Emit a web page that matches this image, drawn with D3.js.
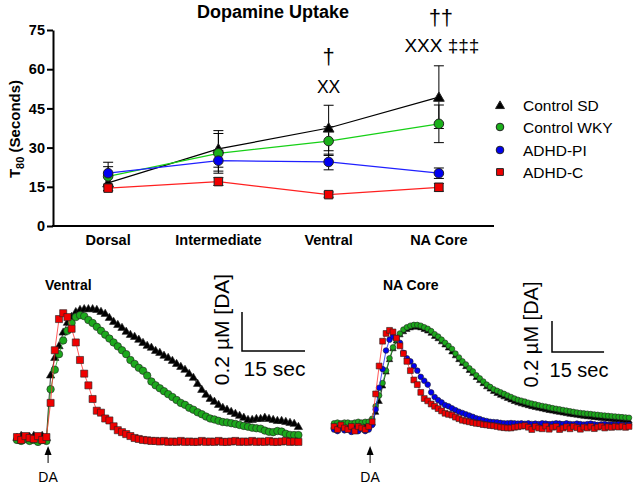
<!DOCTYPE html>
<html>
<head>
<meta charset="utf-8">
<script src="https://cdn.jsdelivr.net/npm/d3@7.9.0/dist/d3.min.js"></script>
<style>
  body { margin: 0; background: #fff; }
  svg text { font-family: Arial, "Liberation Sans", sans-serif; fill: #000; }
</style>
</head>
<body>
<svg id="chart" width="635" height="486"></svg>
<script>
// ---- top chart: T80 by region (mean and SEM, seconds) ----
const regions = ["Dorsal", "Intermediate", "Ventral", "NA Core"];
const groups = ["Control SD", "Control WKY", "ADHD-PI", "ADHD-C"];
const yTicks = [0, 15, 30, 45, 60, 75];

const sdMean = [16.5, 29.5, 37.5, 49.3];
const sdErr = [3, 7, 8.7, 12];
const wkyMean = [19, 27.8, 32.5, 39.1];
const wkyErr = [3.7, 7.6, 5.5, 7.2];
const piMean = [20.2, 25, 24.5, 20.2];
const piErr = [4.2, 4, 3, 2];
const cMean = [14.5, 17, 12, 14.8];
const cErr = [1, 1.5, 1, 1.5];

// significance marks above Ventral and NA Core
const marksVentral = ["†", "XX"];
const marksCore = ["††", "XXX ‡‡‡"];

// ---- bottom traces: [DA] in µM, one sample per second ----
const ventralSD = [0, 0.01, -0.01, 0.005, 0.01, -0.005, 0.01, 0,
  0.32, 0.41, 0.47, 0.54, 0.59, 0.62, 0.645, 0.656, 0.66, 0.66,
  0.66, 0.656, 0.646, 0.636, 0.615, 0.595, 0.579, 0.564, 0.544, 0.528,
  0.518, 0.503, 0.487, 0.472, 0.462, 0.446, 0.436, 0.421, 0.41, 0.395,
  0.379, 0.364, 0.349, 0.328, 0.308, 0.277, 0.246, 0.221, 0.2, 0.185,
  0.169, 0.154, 0.144, 0.133, 0.123, 0.113, 0.103, 0.092, 0.092, 0.097,
  0.097, 0.103, 0.097, 0.092, 0.087, 0.087, 0.082, 0.077, 0.072, 0.056];
const ventralWKY = [-0.01, -0.015, -0.005, -0.015, -0.01, -0.02, -0.01, -0.015,
  0.25, 0.35, 0.43, 0.5, 0.55, 0.59, 0.62, 0.63, 0.625, 0.605,
  0.59, 0.57, 0.55, 0.53, 0.51, 0.49, 0.47, 0.45, 0.43, 0.4,
  0.38, 0.36, 0.345, 0.32, 0.29, 0.27, 0.255, 0.24, 0.225, 0.21,
  0.195, 0.18, 0.17, 0.155, 0.145, 0.132, 0.122, 0.11, 0.1, 0.095,
  0.088, 0.082, 0.08, 0.076, 0.072, 0.067, 0.062, 0.058, 0.053, 0.05,
  0.048, 0.038, 0.032, 0.03, 0.036, 0.033, 0.022, 0.016, 0.015, 0.015];
const ventralC = [0.005, -0.01, 0.01, 0, -0.005, 0.01, -0.01, 0.005,
  0.18, 0.45, 0.61, 0.64, 0.62, 0.56, 0.49, 0.4, 0.33, 0.27,
  0.2, 0.14, 0.13, 0.1, 0.09, 0.06, 0.04, 0.03, 0.02, 0.01,
  0, -0.005, -0.01, -0.012, -0.015, -0.015, -0.018, -0.015, -0.02, -0.018,
  -0.02, -0.015, -0.02, -0.018, -0.02, -0.02, -0.015, -0.02, -0.018, -0.02,
  -0.015, -0.02, -0.02, -0.018, -0.015, -0.02, -0.018, -0.02, -0.015, -0.02,
  -0.018, -0.02, -0.015, -0.02, -0.02, -0.018, -0.015, -0.02, -0.018, -0.02];

const coreSD = [0.01, 0.005, 0.015, 0.01, 0, 0.01, 0.015, 0.005, 0.01, 0.015, 0.01,
  0.03, 0.1, 0.17, 0.27, 0.36, 0.44, 0.51, 0.56, 0.6, 0.62,
  0.635, 0.645, 0.65, 0.65, 0.645, 0.635, 0.625, 0.61, 0.59, 0.575,
  0.555, 0.535, 0.515, 0.49, 0.465, 0.44, 0.415, 0.395, 0.37, 0.35,
  0.325, 0.305, 0.285, 0.265, 0.25, 0.235, 0.222, 0.21, 0.2, 0.19,
  0.18, 0.17, 0.162, 0.155, 0.149, 0.143, 0.137, 0.132, 0.127, 0.122,
  0.117, 0.112, 0.108, 0.104, 0.1, 0.096, 0.092, 0.088, 0.085, 0.082,
  0.078, 0.075, 0.072, 0.07, 0.067, 0.064, 0.062, 0.06, 0.057, 0.055,
  0.052, 0.05, 0.048, 0.046, 0.044];
const coreWKY = [0.03, 0.035, 0.03, 0.035, 0.035, 0.03, 0.035, 0.04, 0.035, 0.04, 0.04,
  0.06, 0.14, 0.21, 0.29, 0.37, 0.45, 0.52, 0.57, 0.61, 0.635,
  0.65, 0.66, 0.665, 0.665, 0.66, 0.65, 0.64, 0.625, 0.605, 0.59,
  0.57, 0.55, 0.53, 0.51, 0.48, 0.455, 0.43, 0.41, 0.385, 0.365,
  0.34, 0.32, 0.3, 0.28, 0.265, 0.25, 0.24, 0.23, 0.22, 0.21,
  0.2, 0.19, 0.182, 0.176, 0.17, 0.163, 0.157, 0.152, 0.147, 0.142,
  0.138, 0.133, 0.128, 0.124, 0.12, 0.116, 0.112, 0.108, 0.104, 0.1,
  0.097, 0.094, 0.092, 0.09, 0.087, 0.085, 0.082, 0.08, 0.078, 0.076,
  0.074, 0.072, 0.07, 0.068, 0.066];
const corePI = [-0.01, -0.02, 0, -0.015, -0.01, -0.025, -0.01, -0.02, -0.005, -0.02, -0.01,
  0.02, 0.12, 0.26, 0.38, 0.5, 0.57, 0.59, 0.58, 0.55, 0.485,
  0.45, 0.43, 0.4, 0.37, 0.33, 0.305, 0.28, 0.23, 0.2, 0.18,
  0.165, 0.148, 0.14, 0.127, 0.115, 0.105, 0.097, 0.088, 0.08, 0.072,
  0.063, 0.058, 0.05, 0.045, 0.04, 0.038, 0.037, 0.033, 0.03, 0.03,
  0.032, 0.03, 0.028, 0.03, 0.027, 0.03, 0.026, 0.028, 0.025, 0.03,
  0.028, 0.025, 0.027, 0.03, 0.028, 0.025, 0.03, 0.026, 0.024, 0.028,
  0.025, 0.022, 0.025, 0.028, 0.024, 0.02, 0.023, 0.025, 0.02, 0.022,
  0.02, 0.024, 0.02, 0.018, 0.02];
const coreC = [0.01, -0.01, 0.02, 0, -0.01, 0.01, -0.02, 0.01, 0, -0.01, 0.01,
  0.04, 0.22, 0.4, 0.56, 0.61, 0.63, 0.62, 0.58, 0.53, 0.48,
  0.43, 0.37, 0.31, 0.28, 0.23, 0.19, 0.175, 0.155, 0.14, 0.125,
  0.11, 0.095, 0.088, 0.083, 0.07, 0.06, 0.05, 0.045, 0.04, 0.035,
  0.03, 0.028, 0.022, 0.02, 0.016, 0.014, 0.01, 0.005, 0.002, 0,
  0, 0.005, 0.008, 0.012, 0.015, 0.005, -0.01, 0.01, 0, -0.005,
  0.012, -0.008, 0.005, 0.01, -0.01, 0, 0.008, -0.005, 0.01, 0.002,
  -0.008, 0.006, 0, 0.01, -0.004, 0.006, 0.012, 0, 0.008, 0.004,
  0.01, 0.006, 0.012, 0.004, 0.01];

const daTimeVentral = 7.4;   // seconds, DA application
const daTimeCore = 10.4;

const svg = d3.select("#chart");
svg.append("rect").attr("width", 635).attr("height", 486).attr("fill", "#fff");

const style = [
  { name: groups[0], mean: sdMean, err: sdErr, line: "#000", fill: "#000", shape: d3.symbolTriangle, size: 50, legSize: 34 },
  { name: groups[1], mean: wkyMean, err: wkyErr, line: "#16d016", fill: "#1bb01b", shape: d3.symbolCircle, size: 72, legSize: 46 },
  { name: groups[2], mean: piMean, err: piErr, line: "#2020ff", fill: "#0000f0", shape: d3.symbolCircle, size: 72, legSize: 46 },
  { name: groups[3], mean: cMean, err: cErr, line: "#ff2020", fill: "#f00000", shape: d3.symbolSquare, size: 72, legSize: 46 }
];

// ================= top chart =================
const x = d3.scalePoint().domain(regions).range([53, 494]).padding(0.5);
const y = d3.scaleLinear().domain([0, 75]).range([226, 30]);

svg.append("text")
  .attr("x", 273).attr("y", 18)
  .attr("text-anchor", "middle")
  .attr("font-size", 18).attr("font-weight", "bold")
  .text("Dopamine Uptake");

const yAxis = svg.append("g")
  .attr("transform", "translate(53,0)")
  .call(d3.axisLeft(y).tickValues(yTicks).tickSize(6).tickSizeOuter(0).tickPadding(2));
yAxis.select(".domain").attr("stroke-width", 2);
yAxis.selectAll(".tick line").attr("stroke-width", 2);
yAxis.selectAll(".tick text")
  .attr("font-size", 14.5).attr("font-weight", "bold")
  .attr("font-family", "Arial, 'Liberation Sans', sans-serif");

svg.append("line")
  .attr("x1", x.range()[0] - 1).attr("x2", x.range()[1])
  .attr("y1", y(0)).attr("y2", y(0))
  .attr("stroke", "#000").attr("stroke-width", 2);

svg.selectAll(".cat")
  .data(regions)
  .join("text")
  .attr("class", "cat")
  .attr("x", d => x(d)).attr("y", 245)
  .attr("text-anchor", "middle")
  .attr("font-size", 14.5).attr("font-weight", "bold")
  .text(d => d);

const yLabel = svg.append("text")
  .attr("transform", "translate(20,129) rotate(-90)")
  .attr("text-anchor", "middle")
  .attr("font-size", 15).attr("font-weight", "bold");
yLabel.append("tspan").text("T");
yLabel.append("tspan").attr("font-size", 11).attr("dy", 4).text("80");
yLabel.append("tspan").attr("dy", -4).text(" (Seconds)");

const line = d3.line()
  .x((d, i) => x(regions[i]))
  .y(d => y(d));

style.forEach(s => {
  svg.append("path")
    .attr("d", line(s.mean))
    .attr("fill", "none")
    .attr("stroke", s.line)
    .attr("stroke-width", 1.2);
});

style.forEach(s => {
  s.mean.forEach((m, i) => {
    const cx = x(regions[i]);
    const g = svg.append("g").attr("stroke", "#000").attr("stroke-width", 1);
    g.append("line").attr("x1", cx).attr("x2", cx).attr("y1", y(m - s.err[i])).attr("y2", y(m + s.err[i]));
    [m - s.err[i], m + s.err[i]].forEach(v => {
      g.append("line").attr("x1", cx - 5).attr("x2", cx + 5).attr("y1", y(v)).attr("y2", y(v));
    });
  });
});

style.forEach(s => {
  svg.selectAll(null)
    .data(s.mean)
    .join("path")
    .attr("d", d3.symbol().type(s.shape).size(s.size))
    .attr("transform", (d, i) => `translate(${x(regions[i])},${y(d) + (s.shape === d3.symbolTriangle ? 1 : 0)})`)
    .attr("fill", s.fill)
    .attr("stroke", "#222")
    .attr("stroke-width", 1);
});

// significance marks
svg.append("text").attr("x", x("Ventral")).attr("y", 64)
  .attr("text-anchor", "middle").attr("font-size", 22).text(marksVentral[0]);
svg.append("text").attr("x", x("Ventral")).attr("y", 93)
  .attr("text-anchor", "middle").attr("font-size", 17.5).text(marksVentral[1]);
svg.append("text").attr("x", x("NA Core") + 2).attr("y", 25)
  .attr("text-anchor", "middle").attr("font-size", 22).text(marksCore[0]);
svg.append("text").attr("x", x("NA Core") + 3).attr("y", 52)
  .attr("text-anchor", "middle").attr("font-size", 19).text(marksCore[1]);

// legend
const legY = [105, 127, 150, 172];
style.forEach((s, i) => {
  svg.append("path")
    .attr("d", d3.symbol().type(s.shape).size(s.legSize))
    .attr("transform", `translate(500,${legY[i] + (s.shape === d3.symbolTriangle ? 1 : 0)})`)
    .attr("fill", s.fill).attr("stroke", "#222").attr("stroke-width", 1);
  svg.append("text")
    .attr("x", 523).attr("y", legY[i]).attr("dy", "0.36em")
    .attr("font-size", 15.5)
    .text(s.name);
});

// ================= bottom trace panels =================
function drawPanel(p) {
  const g = svg.append("g");
  g.append("text").attr("x", p.titleX).attr("y", 290)
    .attr("font-size", 14).attr("font-weight", "bold").text(p.title);

  p.traces.forEach(t => {
    const tl = d3.line().x((d, i) => p.x(i)).y(d => p.y(d));
    g.append("path").attr("d", tl(t.values))
      .attr("fill", "none").attr("stroke", t.line).attr("stroke-width", 0.8);
    g.selectAll(null)
      .data(t.values)
      .join("path")
      .attr("d", d3.symbol().type(t.shape).size(t.size))
      .attr("transform", (d, i) => `translate(${p.x(i)},${p.y(d)})`)
      .attr("fill", t.fill)
      .attr("stroke", "#222")
      .attr("stroke-width", 0.6);
  });

  // DA arrow
  const ax = p.x(p.daTime);
  g.append("line").attr("x1", ax).attr("x2", ax).attr("y1", 463).attr("y2", 452)
    .attr("stroke", "#000").attr("stroke-width", 1);
  g.append("path").attr("d", `M${ax},446 L${ax - 3.5},455 L${ax + 3.5},455 Z`).attr("fill", "#000");
  g.append("text").attr("x", ax).attr("y", 482)
    .attr("text-anchor", "middle").attr("font-size", 14).text("DA");

  // scale bar
  const [bx, by] = p.barCorner;
  const h = p.y(0) - p.y(0.2);
  const w = p.x(15) - p.x(0);
  g.append("path").attr("d", `M${bx},${by - h} L${bx},${by} L${bx + w},${by}`)
    .attr("fill", "none").attr("stroke", "#000").attr("stroke-width", 1.5);
  g.append("text")
    .attr("transform", `translate(${p.umX},${by - h / 2 - 2}) rotate(-90)`)
    .attr("text-anchor", "middle").attr("font-size", p.barFont)
    .text("0.2 µM [DA]");
  g.append("text").attr("x", bx + w / 2 + 1).attr("y", by + 25)
    .attr("text-anchor", "middle").attr("font-size", p.barFont)
    .text("15 sec");
}

const vx = d3.scaleLinear().domain([0, 67]).range([17, 298.4]);
const vy = d3.scaleLinear().domain([0, 0.2]).range([438, 399]);
drawPanel({
  title: "Ventral", titleX: 45,
  x: vx, y: vy, daTime: daTimeVentral,
  barCorner: [242, 351], umX: 229, barFont: 21,
  traces: [
    { values: ventralSD, shape: d3.symbolTriangle, size: 30, fill: "#000", line: "#000" },
    { values: ventralWKY, shape: d3.symbolCircle, size: 44, fill: "#1ca81c", line: "#1ca81c" },
    { values: ventralC, shape: d3.symbolSquare, size: 50, fill: "#f00000", line: "#ff3030" }
  ]
});

const cx = d3.scaleLinear().domain([0, 85]).range([334, 629]);
const cy = d3.scaleLinear().domain([0, 0.2]).range([428, 397]);
drawPanel({
  title: "NA Core", titleX: 383,
  x: cx, y: cy, daTime: daTimeCore,
  barCorner: [552, 352], umX: 538, barFont: 20,
  traces: [
    { values: coreSD, shape: d3.symbolTriangle, size: 18, fill: "#000", line: "#000" },
    { values: coreWKY, shape: d3.symbolCircle, size: 25, fill: "#1ca81c", line: "#1ca81c" },
    { values: corePI, shape: d3.symbolCircle, size: 25, fill: "#0000f0", line: "#2020ff" },
    { values: coreC, shape: d3.symbolSquare, size: 34, fill: "#f00000", line: "#ff3030" }
  ]
});
</script>
</body>
</html>
